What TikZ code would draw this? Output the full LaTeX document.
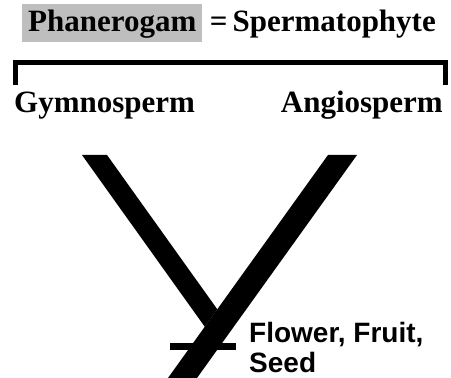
\documentclass[tikz,border=0pt]{standalone}
\usepackage{fontspec}
\setmainfont{Liberation Serif}
\newfontfamily\labelsans{Liberation Sans}
\usepackage{tikz}
\usetikzlibrary{positioning}
\definecolor{boxgray}{RGB}{190,190,190}

\begin{document}
\begin{tikzpicture}[x=1pt,y=1pt,every node/.style={inner sep=0pt,font=\fontsize{31}{33}\selectfont\bfseries}]
        \useasboundingbox (0,0) rectangle (451,378);
        % title
        \node[fill=boxgray,inner xsep=6pt,inner ysep=2pt,text height=25.5pt,text depth=8.5pt,anchor=base west] (phan) at (22,346.5) {Phanerogam};
        \node[base right=7pt of phan] (sperm) {=\,Spermatophyte};
        % bracket and the two groups
        \coordinate (brL) at (15.5,293);
        \coordinate (brR) at (445.5,293);
        \draw[line width=5pt] (brL) -- ++(0,22.5) -| (brR);
        \node[anchor=base west] (gymno) at (14,265) {Gymnosperm};
        \node[anchor=base east] (angio) at (443,265) {Angiosperm};
        % the Y
        \fill (82,223) -- (107,223) -- (217.3,68.7) -- (204.8,51.2) -- cycle;
        \fill (328,223) -- (357,223) -- (197,0) -- (168,0) -- cycle;
        \fill (170,28) rectangle (236,35);
        \node[anchor=base west,align=left,font=\labelsans\fontsize{28}{30}\selectfont\bfseries] (fruit) at (249,5) {Flower, Fruit,\\Seed};
      \end{tikzpicture}
\end{document}
